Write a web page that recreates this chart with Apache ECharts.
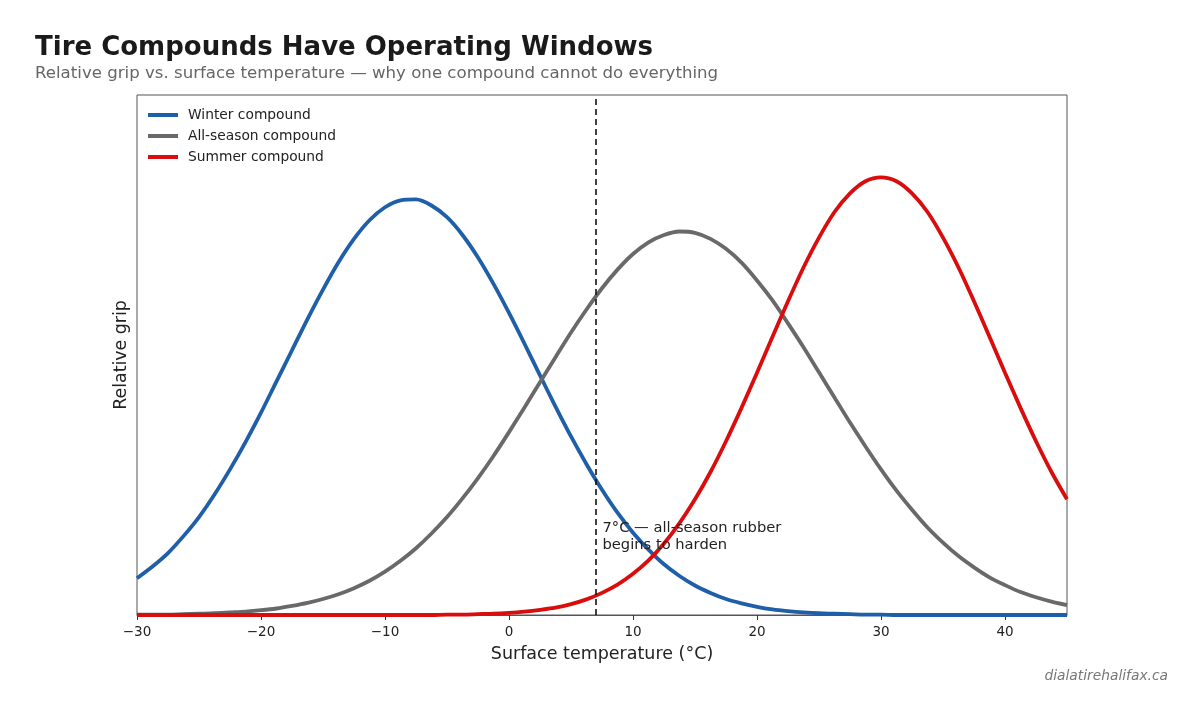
<!DOCTYPE html>
<html>
<head>
<meta charset="utf-8">
<script src="https://cdn.jsdelivr.net/npm/echarts@6/dist/echarts.min.js"></script>
<style>
  html, body { margin: 0; padding: 0; background: #fff; }
  #chart { width: 1204px; height: 717px; }
</style>
</head>
<body>
<div id="chart"></div>
<script>
// temperatures sampled every 1.25 °C
const temps = [-30, -28.75, -27.5, -26.25, -25, -23.75, -22.5, -21.25, -20, -18.75,
  -17.5, -16.25, -15, -13.75, -12.5, -11.25, -10, -8.75, -7.5, -6.25,
  -5, -3.75, -2.5, -1.25, 0, 1.25, 2.5, 3.75, 5, 6.25,
  7.5, 8.75, 10, 11.25, 12.5, 13.75, 15, 16.25, 17.5, 18.75,
  20, 21.25, 22.5, 23.75, 25, 26.25, 27.5, 28.75, 30, 31.25,
  32.5, 33.75, 35, 36.25, 37.5, 38.75, 40, 41.25, 42.5, 43.75, 45]
// relative grip
const winter = [0.085, 0.112, 0.143, 0.182, 0.226, 0.278, 0.336, 0.399, 0.467, 0.539,
  0.611, 0.683, 0.751, 0.814, 0.868, 0.911, 0.941, 0.957, 0.959, 0.945,
  0.918, 0.877, 0.825, 0.764, 0.697, 0.626, 0.553, 0.481, 0.412, 0.348,
  0.289, 0.236, 0.190, 0.151, 0.117, 0.090, 0.068, 0.051, 0.037, 0.027,
  0.019, 0.013, 0.009, 0.006, 0.004, 0.003, 0.002, 0.001, 0.001, 0,
  0, 0, 0, 0, 0, 0, 0, 0, 0, 0, 0]
const allSeason = [0.001, 0.001, 0.001, 0.002, 0.003, 0.004, 0.006, 0.008, 0.011, 0.015,
  0.021, 0.028, 0.037, 0.048, 0.062, 0.079, 0.100, 0.125, 0.154, 0.188,
  0.226, 0.269, 0.316, 0.367, 0.422, 0.479, 0.537, 0.595, 0.652, 0.705,
  0.754, 0.797, 0.833, 0.860, 0.877, 0.885, 0.882, 0.868, 0.845, 0.813,
  0.772, 0.726, 0.673, 0.618, 0.560, 0.502, 0.444, 0.389, 0.336, 0.287,
  0.243, 0.202, 0.167, 0.136, 0.110, 0.087, 0.069, 0.053, 0.041, 0.031, 0.023]
const summer = [0, 0, 0, 0, 0, 0, 0, 0, 0, 0,
  0, 0, 0, 0, 0, 0, 0, 0, 0, 0,
  0.001, 0.001, 0.002, 0.003, 0.005, 0.008, 0.012, 0.017, 0.025, 0.036,
  0.051, 0.070, 0.095, 0.126, 0.165, 0.212, 0.267, 0.330, 0.401, 0.478,
  0.559, 0.642, 0.724, 0.802, 0.871, 0.930, 0.973, 1.001, 1.010, 1.001,
  0.973, 0.930, 0.871, 0.802, 0.724, 0.642, 0.559, 0.478, 0.401, 0.330, 0.267]
const xTicks = [-30, -20, -10, 0, 10, 20, 30, 40]
const hardenTemp = 7

const font = 'DejaVu Sans'
const pairs = arr => temps.map((t, i) => [t, arr[i]])

let mycharts = echarts.init(document.getElementById('chart'))
const lineSeries = (name, color, data) => ({
  name: name,
  type: 'line',
  smooth: 0.3,
  symbol: 'none',
  lineStyle: { width: 3.8, color: color },
  itemStyle: { color: color },
  data: pairs(data),
})

var option = {
  backgroundColor: '#fff',
  animation: false,
  textStyle: { fontFamily: font },
  title: [
    {
      text: 'Tire Compounds Have Operating Windows',
      left: 35, top: 35, padding: 0,
      textStyle: { fontFamily: font, fontSize: 26, fontWeight: 'bold', color: '#1a1a1a' },
    },
    {
      text: 'Relative grip vs. surface temperature — why one compound cannot do everything',
      left: 35, top: 65, padding: 0,
      textStyle: { fontFamily: font, fontSize: 16.6, fontWeight: 'normal', color: '#666' },
    },
    {
      text: 'dialatirehalifax.ca',
      right: 36, top: 669, padding: 0,
      textStyle: { fontFamily: font, fontSize: 13.8, fontStyle: 'italic', fontWeight: 'normal', color: '#777' },
    },
  ],
  legend: {
    orient: 'vertical',
    left: 148, top: 108, padding: 0,
    icon: 'rect',
    itemWidth: 30, itemHeight: 4, itemGap: 7,
    textStyle: { fontFamily: font, fontSize: 13.8, color: '#222', padding: [0, 0, 0, 5] },
    data: ['Winter compound', 'All-season compound', 'Summer compound'],
  },
  grid: {
    left: 137, top: 95, width: 930, height: 520,
    show: true, borderColor: '#555', borderWidth: 1, backgroundColor: '#fff',
  },
  xAxis: {
    type: 'value',
    min: -30, max: 45,
    name: 'Surface temperature (°C)',
    nameLocation: 'middle',
    nameGap: 30,
    nameTextStyle: { fontFamily: font, fontSize: 17.5, color: '#222' },
    axisLine: { show: true, lineStyle: { color: '#555', width: 1 } },
    axisTick: { show: true, inside: false, length: 5, customValues: xTicks, lineStyle: { color: '#333' } },
    axisLabel: {
      customValues: xTicks,
      fontFamily: font, fontSize: 13.5, color: '#222', margin: 10,
      formatter: v => String(v).replace('-', '\u2212'),
    },
    splitLine: { show: false },
  },
  yAxis: {
    type: 'value',
    min: 0, max: 1.2,
    name: 'Relative grip',
    nameLocation: 'middle',
    nameGap: 7,
    nameTextStyle: { fontFamily: font, fontSize: 17.4, color: '#222' },
    axisLine: { show: false },
    axisTick: { show: false },
    axisLabel: { show: false },
    splitLine: { show: false },
  },
  series: [
    lineSeries('Winter compound', '#1f5ea8', winter),
    lineSeries('All-season compound', '#696969', allSeason),
    Object.assign(lineSeries('Summer compound', '#d90d0d', summer), {
      markLine: {
        silent: true,
        symbol: 'none',
        label: { show: false },
        lineStyle: { type: [6, 4], color: '#111', width: 1.6 },
        data: [{ xAxis: hardenTemp }],
      },
      markPoint: {
        silent: true,
        symbol: 'circle',
        symbolSize: 1,
        itemStyle: { color: 'rgba(0,0,0,0)' },
        label: {
          show: true,
          position: 'right',
          distance: 0,
          fontFamily: font, fontSize: 14.7, color: '#222', lineHeight: 17,
          formatter: '7°C — all-season rubber\nbegins to harden',
        },
        data: [{ coord: [7.5, 0.18] }],
      },
    }),
  ],
}

mycharts.setOption(option)
</script>
</body>
</html>
